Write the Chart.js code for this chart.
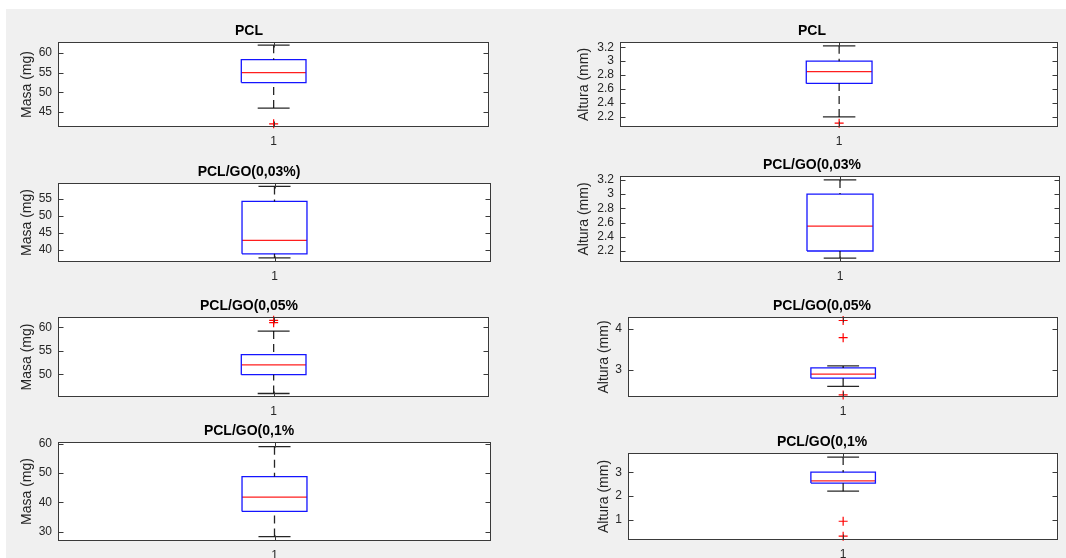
<!DOCTYPE html>
<html>
<head>
<meta charset="utf-8">
<script src="https://cdn.jsdelivr.net/npm/chart.js@4/dist/chart.umd.min.js"></script>
<style>
  body { margin: 0; width: 1066px; height: 558px; background: #fff; position: relative; overflow: hidden; }
  #bg { position: absolute; left: 6px; top: 9px; right: 0; bottom: 0; background: #f0f0f0; }
  canvas { position: absolute; }
</style>
</head>
<body>
<div id="bg"></div>
<script>
// datos (8 boxplots, orden: fila por fila, izquierda -> derecha)
const titles = ['PCL', 'PCL', 'PCL/GO(0,03%)', 'PCL/GO(0,03%', 'PCL/GO(0,05%', 'PCL/GO(0,05%', 'PCL/GO(0,1%', 'PCL/GO(0,1%'];
const yLabels = ['Masa (mg)', 'Altura (mm)', 'Masa (mg)', 'Altura (mm)', 'Masa (mg)', 'Altura (mm)', 'Masa (mg)', 'Altura (mm)'];
const categories = ['1'];

const lowWhisker  = [46,   2.2,  37.7, 2.1,  45.9, 2.6,  28.3, 2.2];
const q1          = [52.5, 2.68, 38.9, 2.2,  49.9, 2.8,  36.9, 2.54];
const median      = [55,   2.85, 42.8, 2.55, 52,   2.9,  41.8, 2.63];
const q3          = [58.3, 3.0,  54.2, 3.0,  54.2, 3.05, 48.8, 3.0];
const highWhisker = [62,   3.22, 58.6, 3.2,  59.2, 3.1,  59,   3.64];
const outliers    = [[42], [2.11], [], [], [61.5, 61], [4.21, 3.79, 2.39], [], [0.93, 0.3]];

const yMin = [41.2, 2.055, 36.5, 2.045, 45.15, 2.34, 26.8, 0.14];
const yMax = [62.8, 3.275, 59.6, 3.255, 62.2, 4.295, 60.6, 3.81];
const yTicks = [
    [45, 50, 55, 60],
    [2.2, 2.4, 2.6, 2.8, 3, 3.2],
    [40, 45, 50, 55],
    [2.2, 2.4, 2.6, 2.8, 3, 3.2],
    [50, 55, 60],
    [3, 4],
    [30, 40, 50, 60],
    [1, 2, 3]
];

// posicion de cada eje en la figura (px)
const panels = [
    { axL: 58,  axT: 42,  axR: 491,  axB: 127, labelX: 27 },
    { axL: 620, axT: 42,  axR: 1060, axB: 127, labelX: 584 },
    { axL: 58,  axT: 183, axR: 491,  axB: 262, labelX: 27 },
    { axL: 620, axT: 176, axR: 1060, axB: 262, labelX: 584 },
    { axL: 58,  axT: 317, axR: 491,  axB: 397, labelX: 27 },
    { axL: 628, axT: 317, axR: 1060, axB: 397, labelX: 604 },
    { axL: 58,  axT: 442, axR: 491,  axB: 541, labelX: 27 },
    { axL: 628, axT: 453, axR: 1060, axB: 540, labelX: 604 }
];

const FONT = '"Liberation Sans", Arial, Helvetica, sans-serif';
const TXT = '#262626';
const boxHalf = 0.075;
const capHalf = 0.037;

// fondo blanco del eje + marco y ticks hacia adentro (estilo MATLAB)
const axesFrame = {
    id: 'axesFrame',
    beforeDraw(chart) {
        const a = chart.chartArea, ctx = chart.ctx;
        ctx.save();
        ctx.fillStyle = '#fff';
        ctx.fillRect(a.left, a.top, a.right - a.left, a.bottom - a.top);
        ctx.restore();
    },
    afterDraw(chart) {
        const a = chart.chartArea, ctx = chart.ctx;
        const L = Math.round(a.left) + 0.5, R = Math.round(a.right) - 0.5;
        const T = Math.round(a.top) + 0.5, B = Math.round(a.bottom) - 0.5;
        ctx.save();
        ctx.strokeStyle = '#3a3a3a';
        ctx.lineWidth = 1;
        ctx.beginPath();
        chart.scales.y.ticks.forEach(function (t) {
            const py = Math.round(chart.scales.y.getPixelForValue(t.value)) + 0.5;
            ctx.moveTo(L, py); ctx.lineTo(L + 5, py);
            ctx.moveTo(R, py); ctx.lineTo(R - 5, py);
        });
        chart.scales.x.ticks.forEach(function (t) {
            const px = Math.round(chart.scales.x.getPixelForValue(t.value)) + 0.5;
            ctx.moveTo(px, B); ctx.lineTo(px, B - 5);
            ctx.moveTo(px, T); ctx.lineTo(px, T + 5);
        });
        ctx.stroke();
        ctx.strokeRect(L, T, R - L, B - T);
        ctx.restore();
    }
};

function seg(points, color, dash) {
    return {
        data: points,
        showLine: true,
        borderColor: color,
        borderWidth: 1.3,
        borderDash: dash || [],
        pointRadius: 0,
        pointHoverRadius: 0,
        fill: false
    };
}

function crearBoxplot(i) {
    const p = panels[i];
    const YW = p.axL - p.labelX + 20;
    const XH = 24;
    const cL = p.axL - YW, cT = p.axT - 20;
    const cW = YW + (p.axR - p.axL) + 4;
    const cH = (p.axB - p.axT) + 20 + XH + 2;

    const canvas = document.createElement('canvas');
    canvas.width = cW;
    canvas.height = cH;
    canvas.style.left = cL + 'px';
    canvas.style.top = cT + 'px';
    document.body.appendChild(canvas);

    const xc = 1;
    const whisk = 'rgba(0,0,0,0.85)';

    new Chart(canvas.getContext('2d'), {
        type: 'scatter',
        data: {
            datasets: [
                seg([{ x: xc, y: highWhisker[i] }, { x: xc, y: q3[i] }], whisk, [8, 5]),
                seg([{ x: xc, y: lowWhisker[i] }, { x: xc, y: q1[i] }], whisk, [8, 5]),
                seg([{ x: xc - capHalf, y: highWhisker[i] }, { x: xc + capHalf, y: highWhisker[i] }], whisk),
                seg([{ x: xc - capHalf, y: lowWhisker[i] }, { x: xc + capHalf, y: lowWhisker[i] }], whisk),
                seg([
                    { x: xc - boxHalf, y: q1[i] }, { x: xc - boxHalf, y: q3[i] },
                    { x: xc + boxHalf, y: q3[i] }, { x: xc + boxHalf, y: q1[i] },
                    { x: xc - boxHalf, y: q1[i] }
                ], 'rgb(20,20,255)'),
                seg([{ x: xc - boxHalf, y: median[i] }, { x: xc + boxHalf, y: median[i] }], 'rgb(255,30,30)'),
                {
                    data: outliers[i].map(v => ({ x: xc, y: v })),
                    showLine: false,
                    pointStyle: 'cross',
                    pointRadius: 4.5,
                    pointHoverRadius: 4.5,
                    borderColor: 'rgb(255,0,0)',
                    borderWidth: 1.2,
                    clip: false
                }
            ]
        },
        options: {
            responsive: false,
            animation: false,
            events: [],
            layout: { padding: { top: 2.3, right: 4, bottom: 2, left: 0 } },
            plugins: {
                legend: { display: false },
                tooltip: { enabled: false },
                title: {
                    display: true,
                    text: titles[i],
                    color: '#000',
                    font: { family: FONT, size: 14, weight: 'bold', lineHeight: 1 },
                    padding: { top: 0, bottom: 3.7 }
                }
            },
            scales: {
                x: {
                    type: 'linear',
                    min: 0.5,
                    max: 1.5,
                    bounds: 'data',
                    afterBuildTicks: s => { s.ticks = [{ value: xc }]; },
                    afterFit: s => { s.height = XH; },
                    grid: { display: false, drawTicks: false },
                    border: { display: false },
                    ticks: {
                        padding: 9,
                        color: TXT,
                        font: { family: FONT, size: 12, lineHeight: 1 },
                        callback: () => categories[0]
                    }
                },
                y: {
                    type: 'linear',
                    min: yMin[i],
                    max: yMax[i],
                    bounds: 'data',
                    afterBuildTicks: s => { s.ticks = yTicks[i].map(v => ({ value: v })); },
                    afterFit: s => { s.width = YW; },
                    grid: { display: false, drawTicks: false },
                    border: { display: false },
                    ticks: {
                        padding: 6,
                        color: TXT,
                        font: { family: FONT, size: 12, lineHeight: 1 },
                        callback: v => String(v)
                    },
                    title: {
                        display: true,
                        text: yLabels[i],
                        color: TXT,
                        font: { family: FONT, size: 14, lineHeight: 1 },
                        padding: { top: 13, bottom: 0 }
                    }
                }
            }
        },
        plugins: [axesFrame]
    });
}

for (let i = 0; i < titles.length; i++) {
    crearBoxplot(i);
}
</script>
</body>
</html>
